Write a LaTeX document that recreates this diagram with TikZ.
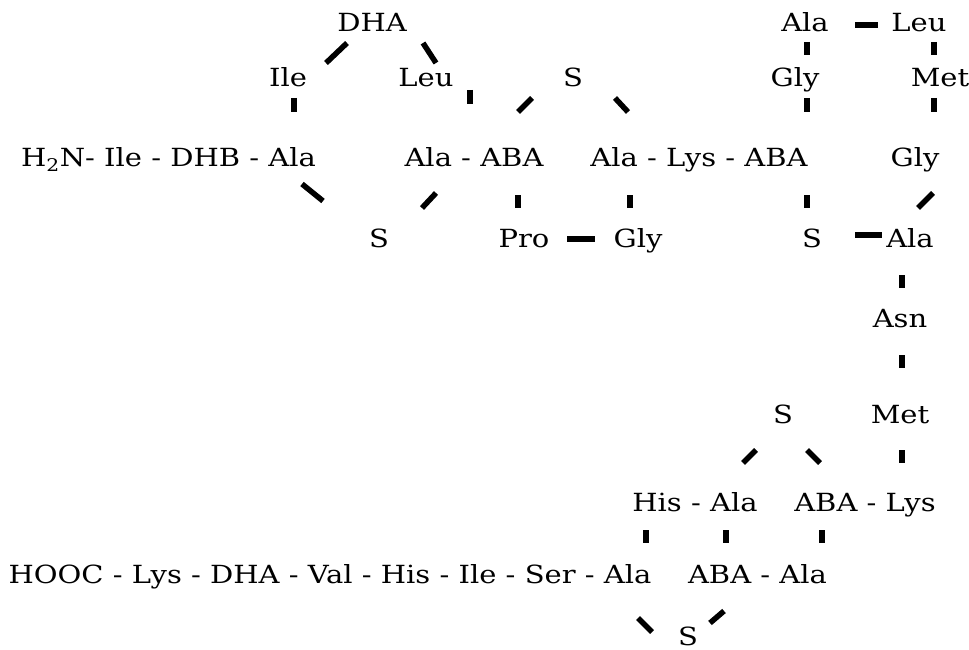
\documentclass[tikz,border=0pt]{standalone}
\usepackage{fontspec}
\setmainfont[FakeStretch=1.16]{DejaVu Serif}
\begin{document}
\begin{tikzpicture}[x=1pt,y=-1pt,
  lbl/.style={anchor=base,inner sep=0pt,font=\fontsize{25}{28}\selectfont},
  bond/.style={line width=5.5pt,line cap=butt}]
\useasboundingbox (0,0) rectangle (969,650);
% row 1
\node[lbl] (dha) at (372,32) {DHA};
\node[lbl] (alat) at (805,32) {Ala};
\node[lbl] (leut) at (919,32) {Leu};
% row 2
\node[lbl] (ile2) at (288,87) {Ile};
\node[lbl] (leu2) at (426,87) {Leu};
\node[lbl] (s2) at (573,87) {S};
\node[lbl] (gly2) at (795,87) {Gly};
\node[lbl] (met2) at (940,87) {Met};
% row 3
\node[lbl] (h2n) at (168.5,167) {H\textsubscript{2}N- Ile - DHB - Ala};
\node[lbl] (alaaba) at (474,167) {Ala - ABA};
\node[lbl] (alalys) at (699,167) {Ala - Lys - ABA};
\node[lbl] (gly3) at (915,167) {Gly};
% row 4
\node[lbl] (s4a) at (379,247) {S};
\node[lbl] (pro) at (524,247) {Pro};
\node[lbl] (gly4) at (638,247) {Gly};
\node[lbl] (s4b) at (812,247) {S};
\node[lbl] (ala4) at (910,247) {Ala};
% right column
\node[lbl] (asn) at (900,327) {Asn};
\node[lbl] (s6) at (783,423) {S};
\node[lbl] (met6) at (900,423) {Met};
% row 7
\node[lbl] (hisala) at (695,511) {His - Ala};
\node[lbl] (abalys) at (865,511) {ABA - Lys};
% row 8
\node[lbl] (hooc) at (330,583) {HOOC - Lys - DHA - Val - His - Ile - Ser - Ala};
\node[lbl] (abaala) at (757.5,583) {ABA - Ala};
% row 9
\node[lbl] (s9) at (688,645) {S};
% bonds
\draw[bond] (347,43) -- (326,63);
\draw[bond] (423,43) -- (436,63);
\draw[bond] (294,98) -- (294,112);
\draw[bond] (470,90) -- (470,104);
\draw[bond] (302,184) -- (323,201);
\draw[bond] (422,208) -- (436,193);
\draw[bond] (518,112) -- (532,98);
\draw[bond] (615,98) -- (628,112);
\draw[bond] (807,42) -- (807,55);
\draw[bond] (855,25) -- (878,25);
\draw[bond] (934,42) -- (934,55);
\draw[bond] (807,98) -- (807,112);
\draw[bond] (934,98) -- (934,112);
\draw[bond] (518,195) -- (518,208);
\draw[bond] (630,195) -- (630,208);
\draw[bond] (567,239) -- (595,239);
\draw[bond] (807,195) -- (807,208);
\draw[bond] (918,208) -- (933,193);
\draw[bond] (855,235) -- (882,235);
\draw[bond] (902,275) -- (902,288);
\draw[bond] (902,355) -- (902,368);
\draw[bond] (743,463) -- (756,450);
\draw[bond] (807,450) -- (820,463);
\draw[bond] (902,450) -- (902,463);
\draw[bond] (646,530) -- (646,543);
\draw[bond] (726,530) -- (726,543);
\draw[bond] (822,530) -- (822,543);
\draw[bond] (638,618) -- (652,632);
\draw[bond] (710,623) -- (724,611);
\end{tikzpicture}
\end{document}
